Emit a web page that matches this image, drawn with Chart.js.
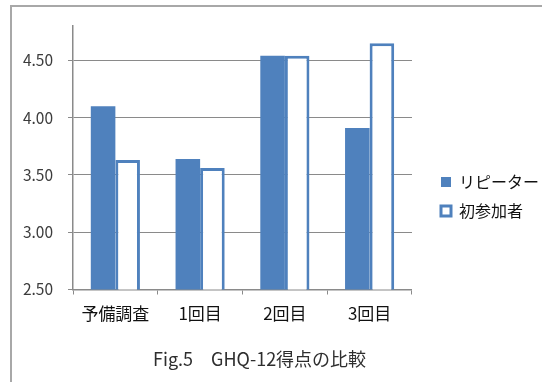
<!DOCTYPE html>
<html lang="ja">
<head>
<meta charset="utf-8">
<title>GHQ-12得点の比較</title>
<script src="https://cdn.jsdelivr.net/npm/chart.js@4/dist/chart.umd.min.js"></script>
<style>
  html, body { margin: 0; padding: 0; background: #ffffff; }
  #wrap { position: relative; width: 542px; height: 382px; overflow: hidden; }
  #frame {
    position: absolute; left: 10px; top: 5px; width: 600px; height: 420px;
    border-left: 2px solid #a8a8a8; border-top: 2px solid #a8a8a8;
  }
  #chart { position: absolute; left: 0; top: 0; }
  #caption {
    position: absolute; left: 153px; top: 347px; white-space: nowrap;
    font-family: "Noto Sans CJK JP", "Noto Sans", sans-serif;
    font-size: 18px; line-height: 22px; color: #2e2e2e;
  }
</style>
</head>
<body>
<div id="wrap">
  <div id="frame"></div>
  <canvas id="chart" width="542" height="382"></canvas>
  <div id="caption">Fig.5　GHQ-12得点の比較</div>
</div>
<script>
// GHQ-12 scores by survey round
const categories = ['予備調査', '1回目', '2回目', '3回目'];
const seriesNames = ['リピーター', '初参加者'];
const repeaterScores = [4.10, 3.64, 4.54, 3.91];
const firstTimerScores = [3.63, 3.56, 4.54, 4.65];
const yTickValues = [2.50, 3.00, 3.50, 4.00, 4.50];

const BLUE = '#4f81bd';
const AXIS_GRAY = '#8a8a8a';

Chart.defaults.font.family = '"Noto Sans CJK JP", "Noto Sans", sans-serif';

new Chart(document.getElementById('chart'), {
  type: 'bar',
  data: {
    labels: categories,
    datasets: [
      {
        label: seriesNames[0],
        data: repeaterScores,
        backgroundColor: BLUE,
        borderWidth: 0
      },
      {
        label: seriesNames[1],
        data: firstTimerScores,
        backgroundColor: '#ffffff',
        borderColor: BLUE,
        borderWidth: 3,
        borderSkipped: false
      }
    ]
  },
  options: {
    responsive: false,
    animation: false,
    devicePixelRatio: 1,
    categoryPercentage: 0.58,
    barPercentage: 1.0,
    layout: { padding: { top: 26, bottom: 15, left: 0, right: -7 } },
    plugins: {
      title: { display: false },
      tooltip: { enabled: false },
      legend: {
        position: 'right',
        maxWidth: 140,
        labels: {
          boxWidth: 10,
          boxHeight: 10,
          padding: 13,
          color: '#111111',
          font: { size: 16 }
        }
      }
    },
    scales: {
      x: {
        offset: true,
        grid: {
          offset: true,
          drawOnChartArea: false,
          drawTicks: true,
          tickLength: 5,
          color: AXIS_GRAY,
          lineWidth: 1
        },
        border: { display: true, color: AXIS_GRAY, width: 1.5 },
        ticks: {
          color: '#111111',
          padding: 9,
          font: { size: 17 }
        },
        afterFit: (scale) => { scale.height = 77.5; }
      },
      y: {
        min: 2.5,
        max: 4.8,
        afterBuildTicks: (scale) => {
          scale.ticks = yTickValues.map((v) => ({ value: v }));
        },
        grid: {
          drawTicks: true,
          tickLength: 5,
          color: AXIS_GRAY,
          lineWidth: 1
        },
        border: { display: true, color: AXIS_GRAY, width: 1.5 },
        ticks: {
          color: '#3c3c3c',
          padding: 15,
          font: { size: 15.5 },
          callback: (value) => Number(value).toFixed(2)
        },
        afterFit: (scale) => { scale.width = 73; }
      },
      gap: {
        position: 'right',
        display: true,
        grid: { display: false, drawTicks: false },
        border: { display: false },
        ticks: { display: false },
        afterFit: (scale) => { scale.width = 16; }
      }
    }
  }
});
</script>
</body>
</html>
